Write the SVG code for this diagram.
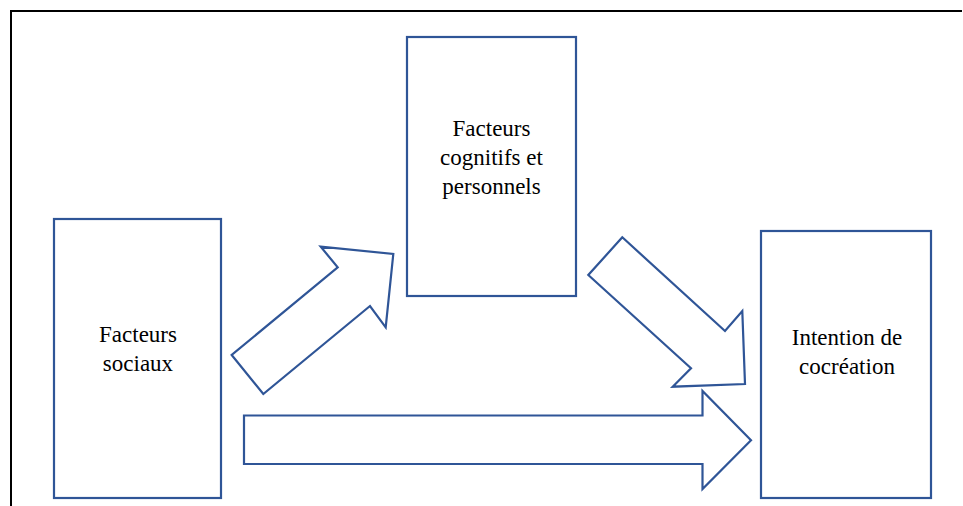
<svg xmlns="http://www.w3.org/2000/svg" width="963" height="506" viewBox="0 0 963 506">
  <style>
    .box { fill: #ffffff; stroke: #2F5597; stroke-width: 2.2; }
    .arrow { fill: #ffffff; stroke: #2F5597; stroke-width: 2.2; stroke-linejoin: miter; }
    .label { font-family: 'Liberation Serif', 'Times New Roman', Times, 'DejaVu Serif', serif; font-size: 23px; fill: #000000; text-anchor: middle; }
  </style>
  <rect width="963" height="506" fill="#ffffff"/>
  <!-- outer frame: top and left edges only -->
  <path d="M11,506 V11 H962" fill="none" stroke="#000000" stroke-width="2"/>

  <g id="connectors">
    <!-- social factors to cognitive/personal factors -->
    <polygon class="arrow" points="231.7,355 263.3,394 370,306 385.7,327.3 393.3,254 320.7,246.7 337.7,267.3"/>
    <!-- cognitive/personal factors to intention -->
    <polygon class="arrow" points="622.3,237.3 588.3,275 691,368.3 672.7,386.7 745,384 742.3,311 725,331"/>
    <!-- social factors to intention -->
    <polygon class="arrow" points="244,415.5 702.5,415.5 702.5,391 751,440.3 702.5,489 702.5,464 244,464"/>
  </g>

  <g id="node-social">
    <rect class="box" x="54" y="219" width="167" height="279"/>
    <text class="label" x="138" y="342">Facteurs</text>
    <text class="label" x="138" y="371">sociaux</text>
  </g>

  <g id="node-cognitive">
    <rect class="box" x="407" y="37" width="169" height="259"/>
    <text class="label" x="491.5" y="136">Facteurs</text>
    <text class="label" x="491.5" y="165">cognitifs et</text>
    <text class="label" x="491.5" y="194">personnels</text>
  </g>

  <g id="node-intention">
    <rect class="box" x="761" y="231" width="170" height="267"/>
    <text class="label" x="847" y="345">Intention de</text>
    <text class="label" x="847" y="374">cocréation</text>
  </g>
</svg>
